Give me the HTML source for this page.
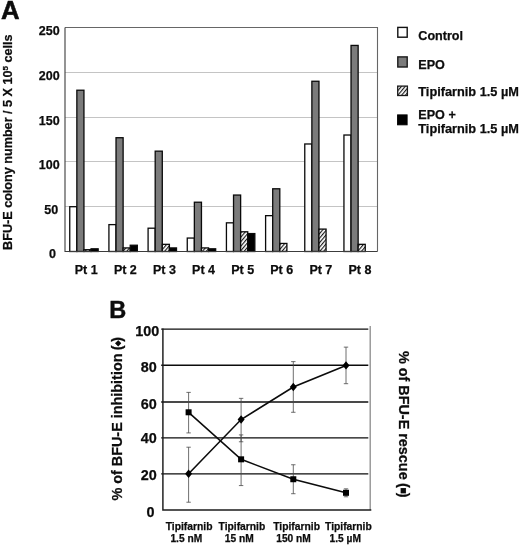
<!DOCTYPE html>
<html><head><meta charset="utf-8"><title>Figure</title>
<style>
html,body{margin:0;padding:0;background:#fff;}
body{width:520px;height:545px;overflow:hidden;}
svg{display:block;}
text{font-family:"Liberation Sans",Arial,Helvetica,sans-serif;font-weight:bold;fill:#0c0c0c;stroke:#0c0c0c;stroke-width:0.25px;}
</style></head><body>
<svg width="520" height="545" viewBox="0 0 520 545">
<defs>
<pattern id="hatch" patternUnits="userSpaceOnUse" width="2.9" height="2.9" patternTransform="rotate(-50)">
<rect width="2.9" height="2.9" fill="#fff"/>
<rect x="0" y="0" width="2.9" height="1.15" fill="#1a1a1a"/>
</pattern>
</defs>
<rect width="520" height="545" fill="#fff"/>

<text x="1.0" y="19.0" font-size="25.5" textLength="18.6" lengthAdjust="spacingAndGlyphs" style="stroke-width:0.5px">A</text>
<line x1="65.0" x2="377.5" y1="206.50" y2="206.50" stroke="#c4c4c4" stroke-width="1"/>
<line x1="65.0" x2="377.5" y1="161.50" y2="161.50" stroke="#c4c4c4" stroke-width="1"/>
<line x1="65.0" x2="377.5" y1="117.50" y2="117.50" stroke="#c4c4c4" stroke-width="1"/>
<line x1="65.0" x2="377.5" y1="72.50" y2="72.50" stroke="#c4c4c4" stroke-width="1"/>
<path d="M65.0 27.5 H377.5 V251.5" fill="none" stroke="#666" stroke-width="1.1"/>
<text x="59.7" y="34.5" font-size="12.5" text-anchor="end">250</text>
<text x="59.6" y="79.6" font-size="12.5" text-anchor="end">200</text>
<text x="59.6" y="125.2" font-size="12.5" text-anchor="end">150</text>
<text x="59.6" y="169.3" font-size="12.5" text-anchor="end">100</text>
<text x="58.2" y="214.3" font-size="12.5" text-anchor="end">50</text>
<text x="56.0" y="258.0" font-size="12.5" text-anchor="end">0</text>
<rect x="69.75" y="206.70" width="7.10" height="44.80" fill="#fff" stroke="#0a0a0a" stroke-width="1.3"/>
<rect x="76.85" y="90.22" width="7.10" height="161.28" fill="#7b7b7b" stroke="#0a0a0a" stroke-width="1.3"/>
<rect x="83.95" y="249.71" width="7.10" height="1.79" fill="url(#hatch)" stroke="#0a0a0a" stroke-width="1.3"/>
<rect x="91.06" y="248.81" width="7.10" height="2.69" fill="#000" stroke="#0a0a0a" stroke-width="1.3"/>
<text x="86.25" y="274.2" font-size="12.5" text-anchor="middle">Pt 1</text>
<rect x="108.92" y="224.62" width="7.10" height="26.88" fill="#fff" stroke="#0a0a0a" stroke-width="1.3"/>
<rect x="116.02" y="137.71" width="7.10" height="113.79" fill="#7b7b7b" stroke="#0a0a0a" stroke-width="1.3"/>
<rect x="123.12" y="247.92" width="7.10" height="3.58" fill="url(#hatch)" stroke="#0a0a0a" stroke-width="1.3"/>
<rect x="130.23" y="245.23" width="7.10" height="6.27" fill="#000" stroke="#0a0a0a" stroke-width="1.3"/>
<text x="125.35" y="274.2" font-size="12.5" text-anchor="middle">Pt 2</text>
<rect x="148.09" y="228.20" width="7.10" height="23.30" fill="#fff" stroke="#0a0a0a" stroke-width="1.3"/>
<rect x="155.19" y="151.15" width="7.10" height="100.35" fill="#7b7b7b" stroke="#0a0a0a" stroke-width="1.3"/>
<rect x="162.29" y="244.33" width="7.10" height="7.17" fill="url(#hatch)" stroke="#0a0a0a" stroke-width="1.3"/>
<rect x="169.40" y="247.92" width="7.10" height="3.58" fill="#000" stroke="#0a0a0a" stroke-width="1.3"/>
<text x="164.45" y="274.2" font-size="12.5" text-anchor="middle">Pt 3</text>
<rect x="187.26" y="238.06" width="7.10" height="13.44" fill="#fff" stroke="#0a0a0a" stroke-width="1.3"/>
<rect x="194.36" y="202.22" width="7.10" height="49.28" fill="#7b7b7b" stroke="#0a0a0a" stroke-width="1.3"/>
<rect x="201.46" y="247.92" width="7.10" height="3.58" fill="url(#hatch)" stroke="#0a0a0a" stroke-width="1.3"/>
<rect x="208.57" y="248.81" width="7.10" height="2.69" fill="#000" stroke="#0a0a0a" stroke-width="1.3"/>
<text x="203.55" y="274.2" font-size="12.5" text-anchor="middle">Pt 4</text>
<rect x="226.43" y="222.83" width="7.10" height="28.67" fill="#fff" stroke="#0a0a0a" stroke-width="1.3"/>
<rect x="233.53" y="195.05" width="7.10" height="56.45" fill="#7b7b7b" stroke="#0a0a0a" stroke-width="1.3"/>
<rect x="240.63" y="231.79" width="7.10" height="19.71" fill="url(#hatch)" stroke="#0a0a0a" stroke-width="1.3"/>
<rect x="247.74" y="233.58" width="7.10" height="17.92" fill="#000" stroke="#0a0a0a" stroke-width="1.3"/>
<text x="242.65" y="274.2" font-size="12.5" text-anchor="middle">Pt 5</text>
<rect x="265.60" y="215.66" width="7.10" height="35.84" fill="#fff" stroke="#0a0a0a" stroke-width="1.3"/>
<rect x="272.70" y="188.78" width="7.10" height="62.72" fill="#7b7b7b" stroke="#0a0a0a" stroke-width="1.3"/>
<rect x="279.80" y="243.44" width="7.10" height="8.06" fill="url(#hatch)" stroke="#0a0a0a" stroke-width="1.3"/>
<text x="281.75" y="274.2" font-size="12.5" text-anchor="middle">Pt 6</text>
<rect x="304.77" y="143.98" width="7.10" height="107.52" fill="#fff" stroke="#0a0a0a" stroke-width="1.3"/>
<rect x="311.87" y="81.26" width="7.10" height="170.24" fill="#7b7b7b" stroke="#0a0a0a" stroke-width="1.3"/>
<rect x="318.97" y="229.10" width="7.10" height="22.40" fill="url(#hatch)" stroke="#0a0a0a" stroke-width="1.3"/>
<text x="320.85" y="274.2" font-size="12.5" text-anchor="middle">Pt 7</text>
<rect x="343.94" y="135.02" width="7.10" height="116.48" fill="#fff" stroke="#0a0a0a" stroke-width="1.3"/>
<rect x="351.04" y="45.42" width="7.10" height="206.08" fill="#7b7b7b" stroke="#0a0a0a" stroke-width="1.3"/>
<rect x="358.14" y="244.33" width="7.10" height="7.17" fill="url(#hatch)" stroke="#0a0a0a" stroke-width="1.3"/>
<text x="359.95" y="274.2" font-size="12.5" text-anchor="middle">Pt 8</text>
<path d="M65.0 27.5 V251.5 H377.5" fill="none" stroke="#3c3c3c" stroke-width="1.1"/>
<text transform="translate(12.3,249.9) rotate(-90)" font-size="12.5" textLength="215.5" lengthAdjust="spacingAndGlyphs">BFU-E colony number / 5 X 10<tspan font-size="8" dy="-4">5</tspan><tspan dy="4"> cells</tspan></text>
<rect x="397.8" y="27.4" width="9.4" height="9.8" fill="#fff" stroke="#111" stroke-width="1.4"/>
<text x="418.3" y="40" font-size="12.6">Control</text>
<rect x="397.8" y="56.9" width="9.4" height="10.1" fill="#7b7b7b" stroke="#1a1a1a" stroke-width="1.4"/>
<text x="418.3" y="68.8" font-size="12.6">EPO</text>
<rect x="397.7" y="86.1" width="9.7" height="9.4" fill="url(#hatch)" stroke="#1a1a1a" stroke-width="1.3"/>
<text x="418.3" y="95.8" font-size="12.75">Tipifarnib 1.5 µM</text>
<rect x="397.6" y="114.9" width="9.5" height="9.9" fill="#000" stroke="#000" stroke-width="1"/>
<text x="418.3" y="118.8" font-size="12.6">EPO +</text>
<text x="418.3" y="133.4" font-size="12.75">Tipifarnib 1.5 µM</text>
<text x="109.3" y="317.6" font-size="24.6" textLength="17.0" lengthAdjust="spacingAndGlyphs" style="stroke-width:0.45px">B</text>
<line x1="161.20000000000002" x2="368.3" y1="473.90" y2="473.90" stroke="#0c0c0c" stroke-width="1.35"/>
<line x1="161.20000000000002" x2="368.3" y1="437.80" y2="437.80" stroke="#0c0c0c" stroke-width="1.35"/>
<line x1="161.20000000000002" x2="368.3" y1="402.00" y2="402.00" stroke="#0c0c0c" stroke-width="1.35"/>
<line x1="161.20000000000002" x2="368.3" y1="365.20" y2="365.20" stroke="#0c0c0c" stroke-width="1.35"/>
<line x1="161.20000000000002" x2="368.3" y1="329.05" y2="329.05" stroke="#0c0c0c" stroke-width="1.35"/>
<line x1="370.2" x2="370.2" y1="326" y2="510.0" stroke="#8c8c8c" stroke-width="1.3"/>
<path d="M162.9 328.45 V510.0 H371.3" fill="none" stroke="#1c1c1c" stroke-width="1.45"/>
<text x="154.4" y="516.8" font-size="14.4" text-anchor="end">0</text>
<text x="156.8" y="480.05" font-size="14.4" text-anchor="end">20</text>
<text x="156.8" y="443.2" font-size="14.4" text-anchor="end">40</text>
<text x="156.8" y="408.5" font-size="14.4" text-anchor="end">60</text>
<text x="156.8" y="371.8" font-size="14.4" text-anchor="end">80</text>
<text x="159.2" y="336.45" font-size="14.4" text-anchor="end">100</text>
<path d="M188.6 447.21 V502.22 M186.4 447.21 H190.79999999999998 M186.4 502.22 H190.79999999999998" fill="none" stroke="#4a4a4a" stroke-width="0.8"/>
<path d="M241.1 398.35 V441.78 M238.9 398.35 H243.29999999999998 M238.9 441.78 H243.29999999999998" fill="none" stroke="#4a4a4a" stroke-width="0.8"/>
<path d="M293.3 361.62 V412.29 M291.1 361.62 H295.5 M291.1 412.29 H295.5" fill="none" stroke="#4a4a4a" stroke-width="0.8"/>
<path d="M346.0 347.14 V383.70 M343.8 347.14 H348.2 M343.8 383.70 H348.2" fill="none" stroke="#4a4a4a" stroke-width="0.8"/>
<path d="M188.6 392.38 V432.92 M186.4 392.38 H190.79999999999998 M186.4 432.92 H190.79999999999998" fill="none" stroke="#4a4a4a" stroke-width="0.8"/>
<path d="M241.1 434.91 V485.57 M238.9 434.91 H243.29999999999998 M238.9 485.57 H243.29999999999998" fill="none" stroke="#4a4a4a" stroke-width="0.8"/>
<path d="M293.3 464.76 V493.71 M291.1 464.76 H295.5 M291.1 493.71 H295.5" fill="none" stroke="#4a4a4a" stroke-width="0.8"/>
<path d="M346.0 488.83 V496.79 M343.8 488.83 H348.2 M343.8 496.79 H348.2" fill="none" stroke="#4a4a4a" stroke-width="0.8"/>
<polyline points="188.6,473.81 241.1,419.52 293.3,386.95 346.0,365.42" fill="none" stroke="#0c0c0c" stroke-width="1.6"/>
<polyline points="188.6,412.29 241.1,459.33 293.3,479.24 346.0,492.81" fill="none" stroke="#0c0c0c" stroke-width="1.6"/>
<path d="M188.6 469.61 L192.1 473.81 L188.6 478.01 L185.1 473.81 Z" fill="#000"/>
<path d="M241.1 415.32 L244.6 419.52 L241.1 423.72 L237.6 419.52 Z" fill="#000"/>
<path d="M293.3 382.75 L296.8 386.95 L293.3 391.15 L289.8 386.95 Z" fill="#000"/>
<path d="M346.0 361.22 L349.5 365.42 L346.0 369.62 L342.5 365.42 Z" fill="#000"/>
<rect x="185.6" y="409.29" width="6" height="6" fill="#000"/>
<rect x="238.1" y="456.33" width="6" height="6" fill="#000"/>
<rect x="290.3" y="476.24" width="6" height="6" fill="#000"/>
<rect x="343.0" y="489.81" width="6" height="6" fill="#000"/>
<text x="189.1" y="529.7" font-size="10.3" text-anchor="middle">Tipifarnib</text>
<text x="186.3" y="541.9" font-size="10.2" text-anchor="middle">1.5 nM</text>
<text x="241.9" y="529.7" font-size="10.3" text-anchor="middle">Tipifarnib</text>
<text x="239.3" y="541.9" font-size="10.2" text-anchor="middle">15 nM</text>
<text x="296.6" y="529.7" font-size="10.3" text-anchor="middle">Tipifarnib</text>
<text x="293.5" y="541.9" font-size="10.2" text-anchor="middle">150 nM</text>
<text x="348.4" y="529.7" font-size="10.3" text-anchor="middle">Tipifarnib</text>
<text x="345.3" y="541.9" font-size="10.2" text-anchor="middle">1.5 µM</text>
<text transform="translate(121.9,500.6) rotate(-90)" font-size="14.4">% of BFU-E inhibition <tspan dx="-0.8">(</tspan><tspan font-size="7.3" dy="-1.7" dx="-0.6">◆</tspan><tspan dy="1.7" dx="-0.6">)</tspan></text>
<text transform="translate(399.0,350.9) rotate(90)" font-size="14.4">% of BFU-E rescue <tspan dx="-0.6">(</tspan><tspan font-size="10.5" dy="-0.8" dx="-0.7">■</tspan><tspan dy="0.8" dx="-0.7">)</tspan></text>
</svg></body></html>
